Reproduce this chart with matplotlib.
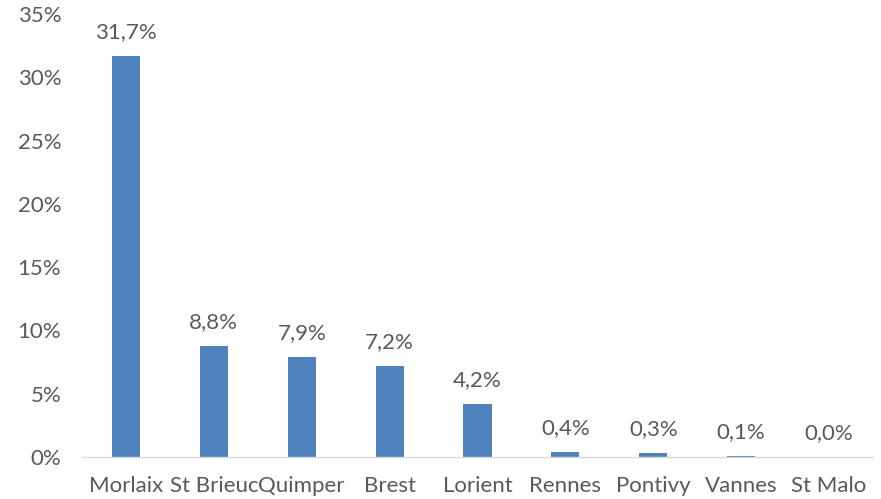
import matplotlib
matplotlib.use("Agg")
import matplotlib.pyplot as plt
from matplotlib.ticker import FuncFormatter

villes = ["Morlaix", "St Brieuc", "Quimper", "Brest", "Lorient", "Rennes", "Pontivy", "Vannes", "St Malo"]
parts = [31.7, 8.8, 7.9, 7.2, 4.2, 0.4, 0.3, 0.1, 0.0]
yticks = [0, 5, 10, 15, 20, 25, 30, 35]

plt.rcParams['font.family'] = ['Lato', 'DejaVu Sans']
gris = '#595959'
fs = 16

fig = plt.figure(figsize=(8.81, 4.99), dpi=100)
ax = fig.add_axes([82/881, 42/499, 791/881, 443/499])

x = range(len(villes))
ax.bar(x, parts, width=0.32, color='#4f81bd', zorder=2)

for xi, v in zip(x, parts):
    ax.text(xi, v + 1.1, f"{v:.1f}%".replace('.', ','), ha='center', va='bottom',
            fontsize=fs, color=gris)

ax.set_xlim(-0.5, len(villes) - 0.5)
ax.set_ylim(0, 35)
ax.set_yticks(yticks)
ax.yaxis.set_major_formatter(FuncFormatter(lambda v, p: f"{v:.0f}%"))
ax.set_xticks(list(x))
ax.set_xticklabels(villes)
ax.tick_params(axis='both', length=0, labelsize=fs, colors=gris)
ax.tick_params(axis='x', pad=14)
ax.tick_params(axis='y', pad=15)

for s in ['top', 'right', 'left']:
    ax.spines[s].set_visible(False)
ax.spines['bottom'].set_color('#d9d9d9')
ax.spines['bottom'].set_linewidth(1)

fig.savefig("out.png", dpi=100)
